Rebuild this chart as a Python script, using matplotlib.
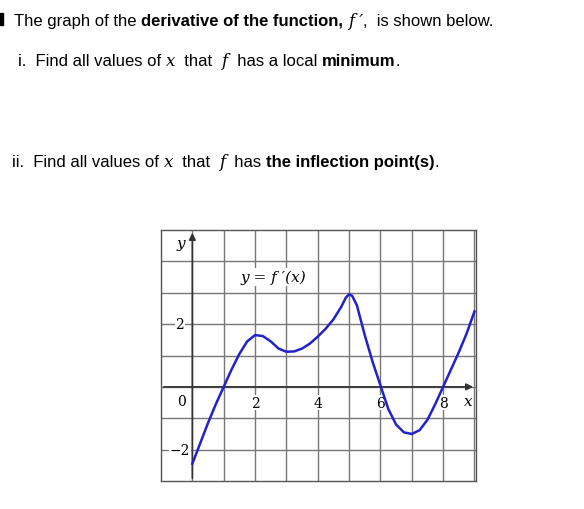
import matplotlib

matplotlib.use("Agg")
import matplotlib.pyplot as plt

curve_x = [0.0, 0.25, 0.5, 0.75, 1.0, 1.25, 1.5, 1.75, 2.0, 2.25, 2.5, 2.75, 3.0, 3.25, 3.5, 3.75,
           4.0, 4.25, 4.5, 4.75, 4.9, 5.0, 5.1, 5.25, 5.5, 5.75, 6.0, 6.25, 6.5, 6.75, 7.0, 7.25,
           7.5, 7.75, 8.0, 8.25, 8.5, 8.75, 9.0]
curve_y = [-2.45, -1.8, -1.15, -0.55, 0.0, 0.55, 1.05, 1.45, 1.65, 1.62, 1.45, 1.22, 1.12, 1.13, 1.22, 1.38,
           1.6, 1.85, 2.15, 2.55, 2.85, 2.95, 2.9, 2.6, 1.65, 0.8, 0.05, -0.7, -1.2, -1.45, -1.5, -1.38,
           -1.05, -0.55, 0.0, 0.55, 1.1, 1.7, 2.4]
x_ticks = [2, 4, 6, 8]
y_ticks = [2, -2]

fig = plt.figure(figsize=(5.84, 5.10), dpi=100)
serif = "DejaVu Serif"
sans = "Liberation Sans"


def rich_line(y, x0, pieces, size=12):
    # draw consecutive text pieces, measuring each one
    r = fig.canvas.get_renderer()
    x = x0
    for txt, kw in pieces:
        t = fig.text(x, y, txt, fontsize=size, va="baseline", transform=None, **kw)
        x += t.get_window_extent(r).width


H = 510
rich_line(H - 26, 14, [("The graph of the ", dict(family=sans)),
                       ("derivative of the function,", dict(family=sans, weight="bold")),
                       (" ", dict(family=sans)),
                       ("f \u2032", dict(family=serif, style="italic")),
                       (",  is shown below.", dict(family=sans))])
rich_line(H - 66, 18, [("i.  Find all values of ", dict(family=sans)),
                       ("x", dict(family=serif, style="italic")),
                       ("  that  ", dict(family=sans)),
                       ("f", dict(family=serif, style="italic")),
                       ("  has a local ", dict(family=sans)),
                       ("minimum", dict(family=sans, weight="bold")),
                       (".", dict(family=sans))])
rich_line(H - 167, 12, [("ii.  Find all values of ", dict(family=sans)),
                        ("x", dict(family=serif, style="italic")),
                        ("  that  ", dict(family=sans)),
                        ("f", dict(family=serif, style="italic")),
                        ("  has ", dict(family=sans)),
                        ("the inflection point(s)", dict(family=sans, weight="bold")),
                        (".", dict(family=sans))])
fig.patches.append(plt.Rectangle((0, H - 26), 3, 12, transform=None, color="black"))

ax = fig.add_axes([161 / 584, 1 - 482 / 510, 315 / 584, 251 / 510])
ax.set_xlim(-1, 9.05)
ax.set_ylim(-3.0, 5.0)
ax.set_xticks([])
ax.set_yticks([])
for s in ax.spines.values():
    s.set_color("#555555")
    s.set_linewidth(1.0)
for gx in range(0, 10):
    ax.axvline(gx, color="#777777", lw=1.0, zorder=1)
for gy in range(-2, 5):
    ax.axhline(gy, color="#777777", lw=1.0, zorder=1)
ax.annotate("", xy=(9.05, 0), xytext=(-1, 0), arrowprops=dict(arrowstyle="-|>", color="#333333", lw=1.2))
ax.annotate("", xy=(0, 5.0), xytext=(0, -3.0), arrowprops=dict(arrowstyle="-|>", color="#333333", lw=1.2))

ax.plot(curve_x, curve_y, color="#2222cc", lw=1.8, zorder=5)

for v in x_ticks:
    ax.text(v, -0.5, str(v), ha="center", va="center", fontsize=10, family=serif,
            bbox=dict(fc="white", ec="none", pad=0.5), zorder=4)
for v in y_ticks:
    ax.text(-0.4, v, str(v).replace("-", "\u2212"), ha="center", va="center", fontsize=10,
            family=serif, bbox=dict(fc="white", ec="none", pad=0.5), zorder=4)
ax.text(-0.35, -0.45, "0", ha="center", va="center", fontsize=10, family=serif,
        bbox=dict(fc="white", ec="none", pad=0.5), zorder=4)
ax.text(8.8, -0.45, "x", ha="center", va="center", fontsize=11, family=serif, style="italic",
        bbox=dict(fc="white", ec="none", pad=0.5), zorder=4)
ax.text(-0.35, 4.6, "y", ha="center", va="center", fontsize=11, family=serif, style="italic",
        bbox=dict(fc="white", ec="none", pad=0.5), zorder=4)
ax.text(2.6, 3.5, "y = f \u2032(x)", ha="center", va="center", fontsize=11, family=serif, style="italic",
        bbox=dict(fc="white", ec="none", pad=1), zorder=4)

fig.savefig("out.png", dpi=100)
